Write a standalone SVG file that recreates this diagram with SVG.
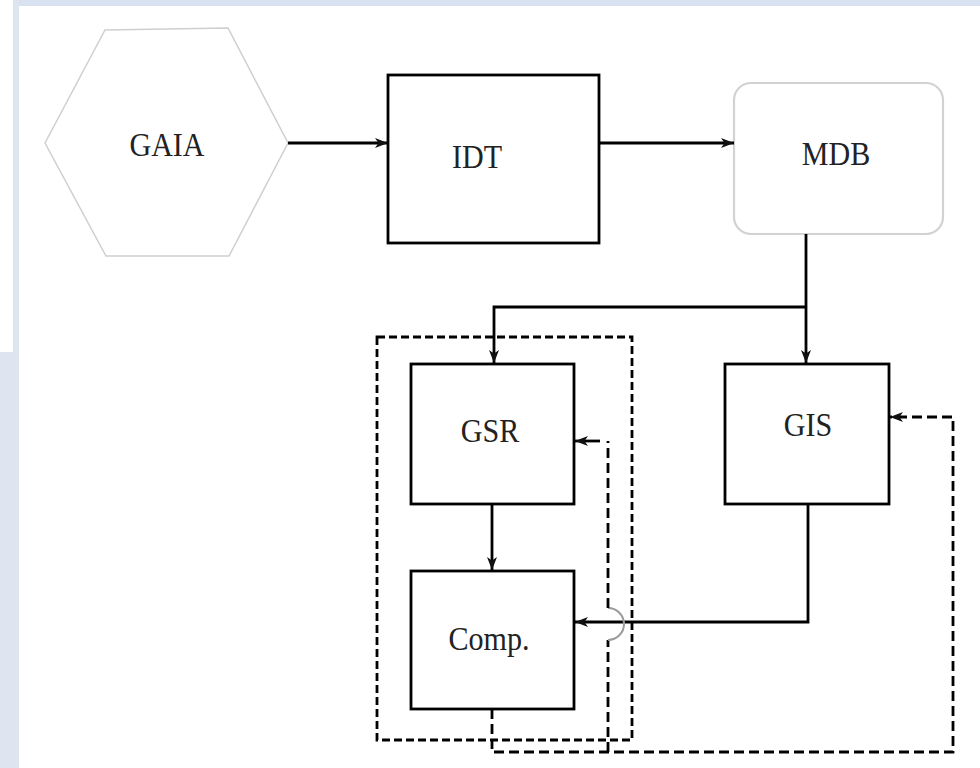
<svg xmlns="http://www.w3.org/2000/svg" width="980" height="768" viewBox="0 0 980 768">
<style>
.lbl{font-family:"Liberation Serif","Times New Roman",serif;font-size:31px;fill:#222;text-anchor:middle}
.box{fill:#fff;stroke:#000;stroke-width:2.8}
.soft{fill:#fff;stroke:#d2d2d2;stroke-width:2.2}
.ln{fill:none;stroke:#000;stroke-width:2.8}
.dash{fill:none;stroke:#000;stroke-width:2.8;stroke-dasharray:10 5}
.odash{fill:none;stroke:#000;stroke-width:2.8;stroke-dasharray:8 4}
</style>
<defs>
<marker id="arr" markerUnits="userSpaceOnUse" markerWidth="15" markerHeight="11" refX="13" refY="5" orient="auto">
<path d="M0,0 L13,5 L0,10 L3.5,5 z" fill="#111"/>
</marker>
</defs>
<rect width="980" height="768" fill="#fff"/>
<rect x="13" y="0" width="967" height="6" fill="#d8e2f1"/>
<rect x="13" y="0" width="6" height="768" fill="#dde5f1"/>
<rect x="0" y="352" width="19" height="416" fill="#dee5f1"/>

<g id="GAIA">
<polygon points="45,143 105,30 228,28 288,143 229,256 106,256" fill="#fff" stroke="#cfcfcf" stroke-width="1.5"/>
<text class="lbl" transform="translate(167,156) scale(0.97,1.12)">GAIA</text>
</g>
<g id="IDT">
<rect class="box" x="388" y="75" width="211" height="168"/>
<text class="lbl" transform="translate(477,168) scale(0.97,1.12)">IDT</text>
</g>
<g id="MDB">
<rect class="soft" x="734" y="83" width="209" height="151" rx="17"/>
<text class="lbl" transform="translate(836,165) scale(0.97,1.12)">MDB</text>
</g>
<g id="group">
<rect class="odash" x="377" y="337" width="255" height="403"/>
</g>
<g id="GSR">
<rect class="box" x="411" y="364" width="163" height="140"/>
<text class="lbl" transform="translate(490,442) scale(0.97,1.12)">GSR</text>
</g>
<g id="GIS">
<rect class="box" x="725" y="364" width="164" height="140"/>
<text class="lbl" transform="translate(808,436) scale(0.97,1.12)">GIS</text>
</g>
<g id="Comp">
<rect class="box" x="411" y="571" width="163" height="138"/>
<text class="lbl" transform="translate(489,650) scale(0.97,1.12)">Comp.</text>
</g>

<g id="connectors">
<path class="ln" d="M288,143 H388" marker-end="url(#arr)"/>
<path class="ln" d="M599,143 H734" marker-end="url(#arr)"/>
<path class="ln" d="M806,234 V363" marker-end="url(#arr)"/>
<path class="ln" d="M806,307 H494 V363" marker-end="url(#arr)"/>
<path class="ln" d="M492,504 V570" marker-end="url(#arr)"/>
<path class="ln" d="M808,504 V622 H575" marker-end="url(#arr)"/>
<path class="dash" d="M492,709 V752 H953 V417 H890" marker-end="url(#arr)"/>
<path class="dash" d="M608,752 V640"/>
<path d="M608,608 A16,16 0 0 1 608,640" fill="none" stroke="#9a9a9a" stroke-width="2"/>
<path class="dash" d="M608,608 V441"/>
<path class="ln" d="M600,441 H575" marker-end="url(#arr)"/>
</g>
</svg>
